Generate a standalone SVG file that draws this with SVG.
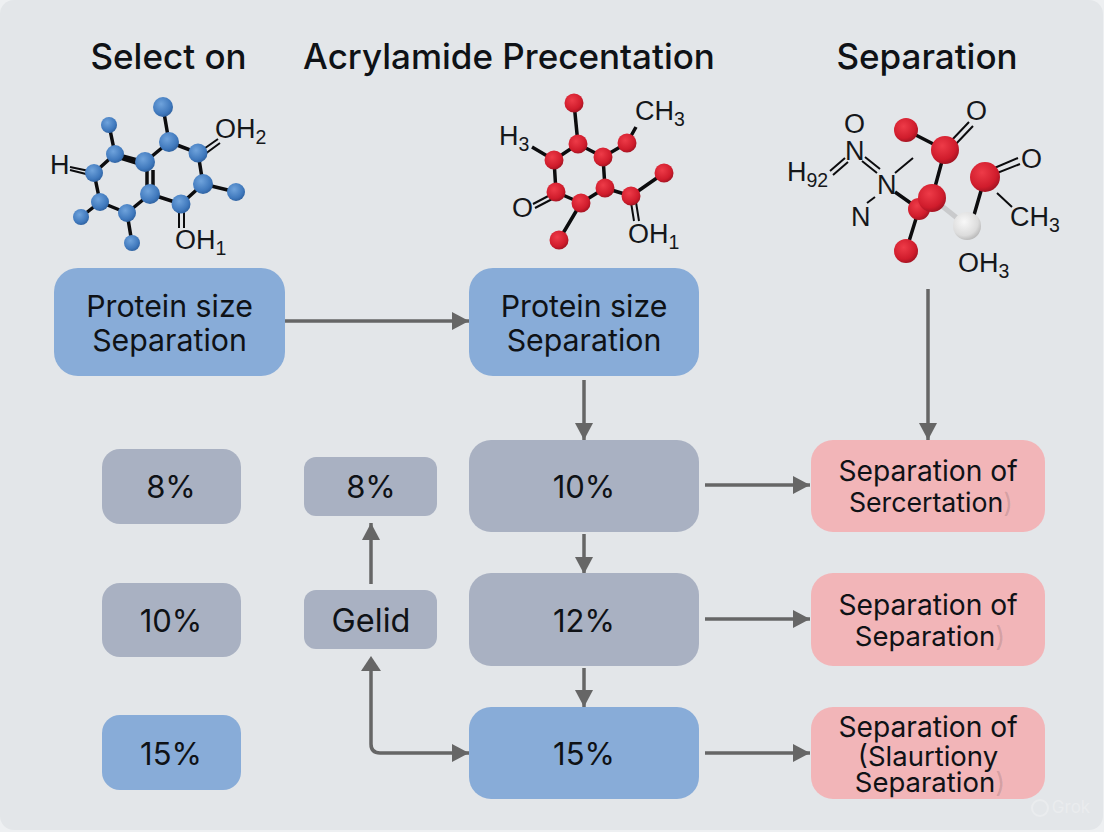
<svg xmlns="http://www.w3.org/2000/svg" width="1104" height="832" viewBox="0 0 1104 832">
<style>
text{font-family:Inter,"Liberation Sans",sans-serif;fill:#0f1216;text-anchor:middle}
.h{font-size:35px;font-weight:500}
.l{font-size:30.300px}
.n{font-size:31px}
.p{font-size:28.200px}
.q{font-size:27.500px}
.f{fill:#0f1216;fill-opacity:.15}
text.c{font-family:"Liberation Sans",Arial,sans-serif;font-size:27px;fill:#15171a;text-anchor:start}
.s{font-size:19.500px}
.b{fill:#88acd8}.g{fill:#a9b1c2}.r{fill:#f2b5b8}
.bd{stroke:#0c0c0e;stroke-width:3.500;fill:none}
.bt{stroke:#0c0c0e;stroke-width:2;fill:none}
.cn{stroke:#666;stroke-width:3.500;fill:none}
.ba{fill:url(#sb)}.ra{fill:url(#sr)}
</style>
<defs>
<radialGradient id="sb" cx=".4" cy=".35" r=".7"><stop offset="0" stop-color="#6fa3dc"/><stop offset=".7" stop-color="#4079bd"/><stop offset="1" stop-color="#2c5e9c"/></radialGradient>
<radialGradient id="sr" cx=".4" cy=".35" r=".7"><stop offset="0" stop-color="#ee3b48"/><stop offset=".7" stop-color="#d01c2c"/><stop offset="1" stop-color="#9c1220"/></radialGradient>
<radialGradient id="sw" cx=".4" cy=".35" r=".7"><stop offset="0" stop-color="#f8f8f8"/><stop offset=".7" stop-color="#dcdcdc"/><stop offset="1" stop-color="#b4b4b4"/></radialGradient>
<marker id="a" markerUnits="userSpaceOnUse" markerWidth="20" markerHeight="20" refX="18" refY="10" orient="auto"><path d="M1 1L18 10L1 19Z" fill="#666"/></marker>
</defs>
<rect width="1104" height="832" fill="#eef0f2"/>
<rect x="0" y="0" width="1103" height="830" rx="14" fill="#e3e6e9"/>

<g id="headings">
<text class="h" x="168.500" y="69">Select on</text>
<text class="h" x="509" y="69">Acrylamide Precentation</text>
<text class="h" x="927" y="69">Separation</text>
</g>

<g id="molecule-blue">
<path class="bd" d="M163 107L169 142M109 125L115 154M169 142L198 153M198 153L203 184M203 184L236 192M203 184L181 204M181 204L150 194M150 194L127 213M127 213L100 202M100 202L94 173M94 173L115 154M115 154L145 162M145 162L169 142M127 213L132 243M100 202L81 217"/>
<path class="bd" d="M117 157L143 165M147 170L147 188M153 170L153 188"/>
<path class="bt" d="M198 153L218 139M201 157L220 143M179 206L179 228M184 206L184 228M94 172L70 167M94 176L70 170"/>
<g class="ba"><circle cx="163" cy="107" r="10"/><circle cx="109" cy="125" r="8"/><circle cx="169" cy="142" r="10"/><circle cx="198" cy="153" r="9.500"/><circle cx="115" cy="154" r="9"/><circle cx="145" cy="162" r="10"/><circle cx="94" cy="173" r="9"/><circle cx="203" cy="184" r="10"/><circle cx="236" cy="192" r="9"/><circle cx="150" cy="194" r="10"/><circle cx="100" cy="202" r="9"/><circle cx="181" cy="204" r="9.500"/><circle cx="81" cy="217" r="8"/><circle cx="127" cy="213" r="9"/><circle cx="132" cy="243" r="8"/></g>
<text class="c" x="50" y="174">H</text>
<text class="c" x="215" y="138">OH<tspan class="s" dy="6">2</tspan></text>
<text class="c" x="175" y="249">OH<tspan class="s" dy="6">1</tspan></text>
</g>

<g id="molecule-red">
<path class="bd" d="M574 103L578 144M578 144L554 160M578 144L603 157M603 157L627 143M627 143L636 127M554 160L556 192M556 192L581 203M581 203L605 188M605 188L603 157M605 188L631 196M631 196L664 173M581 203L559 240M554 160L532 147"/>
<path class="bt" d="M556 192L533 204M558 196L535 208M630 196L634 221M635 196L639 221"/>
<g class="ra"><circle cx="574" cy="103" r="9.500"/><circle cx="578" cy="144" r="9.500"/><circle cx="627" cy="143" r="9.500"/><circle cx="554" cy="160" r="9.500"/><circle cx="603" cy="157" r="9.500"/><circle cx="664" cy="173" r="9.500"/><circle cx="556" cy="192" r="9.500"/><circle cx="605" cy="188" r="9.500"/><circle cx="631" cy="196" r="9.500"/><circle cx="581" cy="203" r="9.500"/><circle cx="559" cy="240" r="9.500"/></g>
<text class="c" x="499" y="145">H<tspan class="s" dy="6">3</tspan></text>
<text class="c" x="635" y="120">CH<tspan class="s" dy="6">3</tspan></text>
<text class="c" x="512" y="217">O</text>
<text class="c" x="628" y="243">OH<tspan class="s" dy="6">1</tspan></text>
</g>

<g id="molecule-mixed">
<path class="bd" d="M906 130L945 150M945 150L932 198M985 177L972 222M919 209L906 251M895 192L919 209"/>
<path d="M932 198L967 226" stroke="#c9cacc" stroke-width="5" fill="none"/>
<path class="bt" d="M950 142L969 122M954 146L973 126M985 172L1018 158M987 177L1020 164M997 193L1012 207M830 171L845 158M833 175L848 162M865 157L880 169M862 161L877 173M895 173L913 158M875 197L867 203"/>
<g class="ra"><circle cx="906" cy="130" r="12"/><circle cx="945" cy="150" r="14"/><circle cx="985" cy="177" r="15"/><circle cx="919" cy="209" r="11"/><circle cx="932" cy="198" r="14"/><circle cx="906" cy="251" r="12"/></g>
<circle cx="967" cy="226" r="14" fill="url(#sw)"/>
<text class="c" x="966" y="120">O</text><text class="c" x="1021" y="168">O</text><text class="c" x="844" y="133">O</text>
<text class="c" x="845" y="160">N</text><text class="c" x="877" y="194">N</text><text class="c" x="851" y="226">N</text>
<text class="c" x="787" y="181">H<tspan class="s" dy="6">92</tspan></text>
<text class="c" x="1010" y="226">CH<tspan class="s" dy="6">3</tspan></text>
<text class="c" x="958" y="272">OH<tspan class="s" dy="6">3</tspan></text>
</g>

<g id="connectors">
<path class="cn" d="M285 321L469 321" marker-end="url(#a)"/>
<path class="cn" d="M584 380L584 440" marker-end="url(#a)"/>
<path class="cn" d="M928 289L928 440" marker-end="url(#a)"/>
<path class="cn" d="M705 485L810 485" marker-end="url(#a)"/>
<path class="cn" d="M705 619L810 619" marker-end="url(#a)"/>
<path class="cn" d="M705 753L810 753" marker-end="url(#a)"/>
<path class="cn" d="M584 534L584 574" marker-end="url(#a)"/>
<path class="cn" d="M584 668L584 707" marker-end="url(#a)"/>
<path class="cn" d="M371 584L371 523" marker-end="url(#a)"/>
<path class="cn" d="M371 670L371 744Q371 753 380 753L469 753" marker-end="url(#a)"/>
<path d="M371 656L361 671L381 671Z" fill="#666"/>
</g>

<g id="n1"><rect class="b" x="54" y="268" width="231" height="108" rx="24"/><text class="l" x="169.500" y="317">Protein size</text><text class="l" x="169.500" y="351">Separation</text></g>
<g id="n2"><rect class="b" x="469" y="268" width="230" height="108" rx="24"/><text class="l" x="584" y="317">Protein size</text><text class="l" x="584" y="351">Separation</text></g>
<g id="n3"><rect class="g" x="102" y="449" width="139" height="75" rx="18"/><text class="n" x="171" y="498">8%</text></g>
<g id="n4"><rect class="g" x="102" y="583" width="139" height="74" rx="18"/><text class="n" x="171" y="632">10%</text></g>
<g id="n5"><rect class="b" x="102" y="715" width="139" height="75" rx="18"/><text class="n" x="171" y="765">15%</text></g>
<g id="n6"><rect class="g" x="304" y="457" width="133" height="59" rx="12"/><text class="n" x="371" y="498">8%</text></g>
<g id="n7"><rect class="g" x="304" y="590" width="133" height="59" rx="12"/><text class="n" x="371" y="632" style="font-size:32.500px">Gelid</text></g>
<g id="n8"><rect class="g" x="469" y="440" width="230" height="92" rx="22"/><text class="n" x="584" y="498">10%</text></g>
<g id="n9"><rect class="g" x="469" y="573" width="230" height="93" rx="22"/><text class="n" x="584" y="632">12%</text></g>
<g id="n10"><rect class="b" x="469" y="707" width="230" height="92" rx="22"/><text class="n" x="584" y="765">15%</text></g>
<g id="n11"><rect class="r" x="811" y="440" width="234" height="92" rx="22"/><text class="p" x="928" y="481">Separation of</text><text class="q" x="931" y="512" style="font-size:26.700px">Sercertation<tspan class="f">)</tspan></text></g>
<g id="n12"><rect class="r" x="811" y="573" width="234" height="93" rx="22"/><text class="p" x="928" y="615">Separation of</text><text class="q" x="930" y="646">Separation<tspan class="f">)</tspan></text></g>
<g id="n13"><rect class="r" x="811" y="707" width="234" height="92" rx="22"/><text class="p" x="928" y="737">Separation of</text><text class="q" x="928" y="766">(Slaurtiony</text><text class="q" x="930" y="792">Separation<tspan class="f">)</tspan></text></g>
<g id="watermark"><circle cx="1040" cy="808" r="8" fill="none" stroke="#eaecee" stroke-width="2"/><text x="1071" y="813" style="font-size:17px;fill:#eaecee">Grok</text></g>
</svg>
